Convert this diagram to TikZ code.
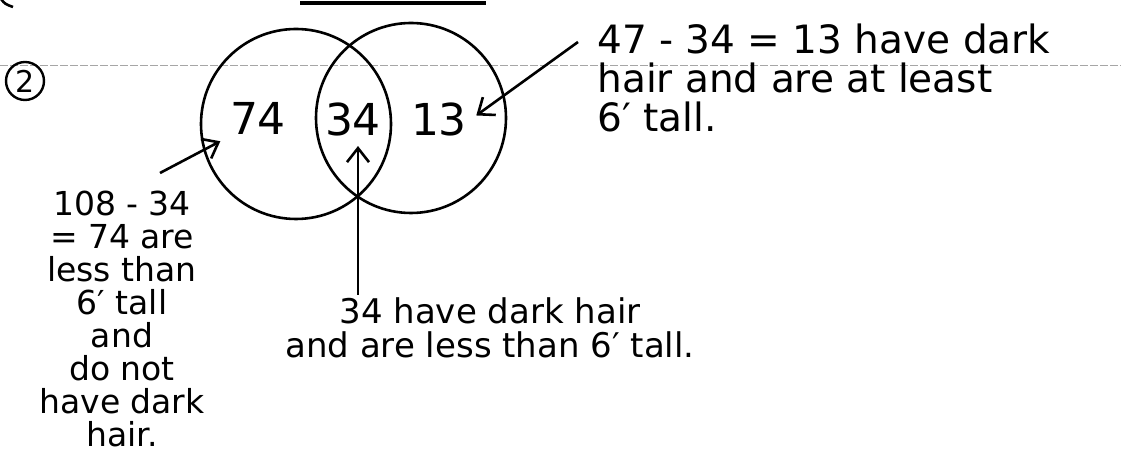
\documentclass[tikz,border=0pt]{standalone}
\usepackage{fontspec}
\setmainfont{DejaVu Sans}
\usetikzlibrary{arrows.meta}

\begin{document}
\begin{tikzpicture}[
  x=0.5pt, y=-0.5pt,
  setcircle/.style={circle, draw, line width=1.3pt, minimum size=95pt, inner sep=0pt},
  count/.style={font=\fontsize{22}{22}\selectfont, inner sep=2pt},
  note/.style={inner sep=0pt, align=#1},
  note/.default={center},
  pointer/.style={->, line width=1.3pt, shorten >=3pt},
  >={Straight Barb[length=7pt, width=11pt, line width=1.3pt]}
]
  \useasboundingbox (0,0) rectangle (1121,453);
  % ruled line of the paper
  \draw[gray!70, line width=0.4pt, dash pattern=on 4pt off 1pt] (0,65) -- (1121,65);
  % cut off strokes at the top
  \draw[line width=1.3pt] (1,-1) .. controls (5,4) .. (13,7);
  \draw[line width=2pt] (300,3) -- (486,3);
  % problem number
  \node[circle, draw, line width=1.2pt, minimum size=19pt, inner sep=0pt,
        font=\fontsize{15}{15}\selectfont] (qnum) at (25,81) {2};
  % the two sets
  \node[setcircle] (shorter) at (296,124) {};
  \node[setcircle] (darkhair) at (411,118) {};
  % counts
  \node[count] (n74) at (258,118) {74};
  \node[count] (n34) at (353,119) {34};
  \node[count] (n13) at (439,119) {13};
  % notes
  \node[note=left, font=\fontsize{19.5}{19.5}\selectfont, anchor=north west] (tallnote) at (597,23)
    {47 - 34 = 13 have dark\\hair and are at least\\6′ tall.};
  \node[note, font=\fontsize{16.5}{16.5}\selectfont] (shortnote) at (122,319)
    {108 - 34\\= 74 are\\less than\\6′ tall\\and\\do not\\have dark\\hair.};
  \node[note, font=\fontsize{17}{17}\selectfont] (bothnote) at (490,328)
    {34 have dark hair\\and are less than 6′ tall.};
  % pointers
  \coordinate (t74) at (160,173);
  \coordinate (t34) at (358,295);
  \coordinate (t13) at (578,42);
  \draw[pointer] (t74) -- (n74.south west);
  \draw[pointer] (t34) -- (t34 |- n34.south);
  \draw[pointer] (t13) -- (n13.east);
\end{tikzpicture}
\end{document}
